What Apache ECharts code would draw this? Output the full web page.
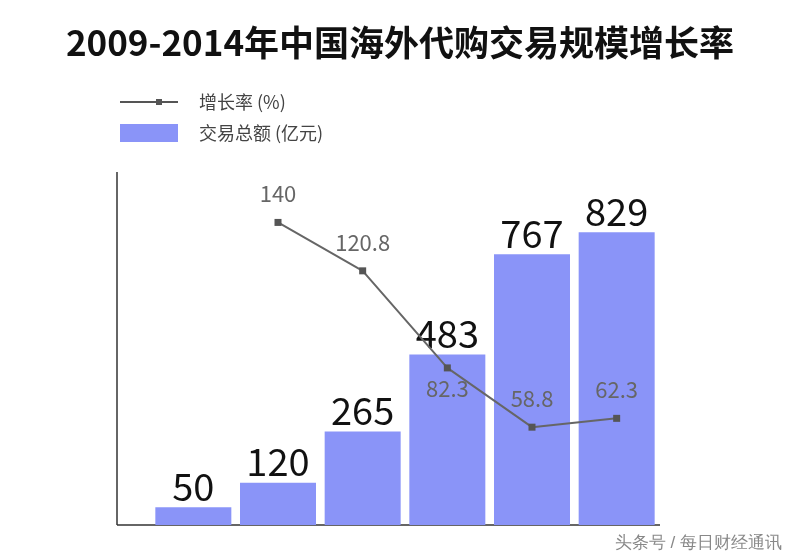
<!DOCTYPE html>
<html><head><meta charset="utf-8">
<script src="https://cdn.jsdelivr.net/npm/echarts@6/dist/echarts.min.js"></script>
<style>html,body{margin:0;background:#fff}#c{width:800px;height:560px}</style>
</head><body><div id="c"></div>
<script>
const years = ['2009', '2010', '2011', '2012', '2013', '2014']
const totals = [50, 120, 265, 483, 767, 829]
const growth = [null, 140, 120.8, 82.3, 58.8, 62.3]

const font = '"Noto Sans CJK SC", "Noto Sans", sans-serif'
const chart = echarts.init(document.getElementById('c'))
chart.setOption({
  animation: false,
  textStyle: { fontFamily: font },
  title: {
    text: '2009-2014年中国海外代购交易规模增长率',
    left: 'center', top: 20,
    textStyle: { fontSize: 35, fontWeight: 'bold', color: '#111', fontFamily: font }
  },
  legend: {
    orient: 'vertical', left: 115, top: 88, itemWidth: 58, itemHeight: 18, itemGap: 13,
    textStyle: { fontSize: 18, color: '#444', fontFamily: font, padding: [0, 0, 0, 16] },
    data: [
      { name: '增长率 (%)', icon: 'path://M0,8 L58,8 L58,10 L0,10 Z M36,6 L42,6 L42,12 L36,12 Z', itemStyle: { color: '#555' } },
      { name: '交易总额 (亿元)', icon: 'rect' }
    ]
  },
  grid: { left: 151, right: 141, top: 172, bottom: 35 },
  xAxis: { type: 'category', data: years, show: false },
  yAxis: [
    { type: 'value', min: 0, max: 1000, show: false },
    { type: 'value', min: 20, max: 160, show: false }
  ],
  graphic: [
    { type: 'line', shape: { x1: 117, y1: 172, x2: 117, y2: 525 }, style: { stroke: '#333', lineWidth: 1.5 } },
    { type: 'line', shape: { x1: 117, y1: 525, x2: 660, y2: 525 }, style: { stroke: '#333', lineWidth: 1.5 } },
    { type: 'text', right: 18, bottom: 8, style: { text: '头条号 / 每日财经通讯', fontSize: 17, fill: '#888', font: '17px ' + font } }
  ],
  series: [
    {
      name: '交易总额 (亿元)', type: 'bar', data: totals, barWidth: 76,
      itemStyle: { color: '#8a94f8' },
      label: { show: true, position: 'top', fontSize: 38, color: '#111', distance: 2 }
    },
    {
      name: '增长率 (%)', type: 'line', yAxisIndex: 1,
      data: growth.map((v, i) => i === 3 ? { value: v, label: { position: 'bottom', distance: 6 } } : v),
      lineStyle: { color: '#666', width: 2 }, itemStyle: { color: '#555' },
      symbol: 'rect', symbolSize: 7,
      label: { show: true, position: 'top', fontSize: 22, color: '#666', distance: 14 }
    }
  ]
})
</script></body></html>
